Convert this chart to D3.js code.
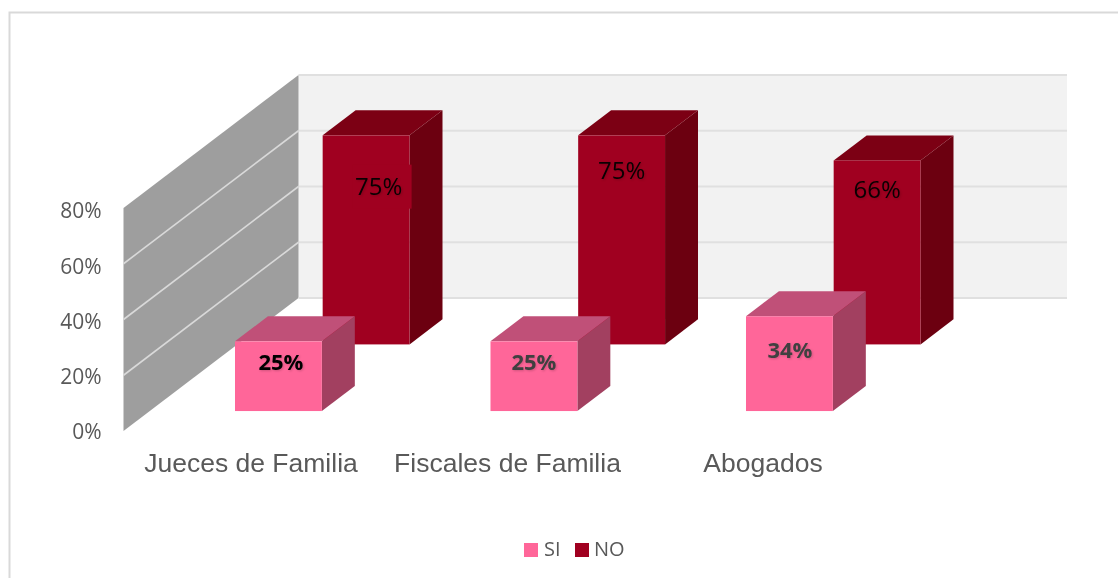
<!DOCTYPE html>
<html><head><meta charset="utf-8">
<script src="https://cdn.jsdelivr.net/npm/d3@7"></script>
<style>html,body{margin:0;padding:0;background:#fff}svg{display:block}
.soft{filter:blur(0.45px)}
.lbl{filter:blur(0.25px) drop-shadow(1px 1px 1px rgba(0,0,0,.18))}
.txt{filter:blur(0.25px)}</style>
</head><body><div id="c"></div>
<script>
const categories = ["Jueces de Familia", "Fiscales de Familia", "Abogados"];
const seriesNames = ["SI", "NO"];
const siValues = [25, 25, 34];
const noValues = [75, 75, 66];
const yTicks = [0, 20, 40, 60, 80];
const frontColor = {SI: "#FF6699", NO: "#A00020"};
const topColor = {SI: "#C05078", NO: "#7C0014"};
const sideColor = {SI: "#A24060", NO: "#6C0010"};
// label placement relative to the bar's front top, px (the source has hand-moved labels)
const labelOffset = {SI: [[2.5, 22], [0, 22], [0.5, 35]], NO: [[12.5, 52], [0, 36], [0, 30]]};
const labelColor = {SI: ["#000", "#404040", "#404040"], NO: ["#0a0002", "#0a0002", "#0a0002"]};

const W = 1118, H = 578;
const svg = d3.select("#c").append("svg").attr("width", W).attr("height", H);

const plot = {x0: 123.5, x1: 892, yBase: 431, depthX: 175, depthY: 133};
const y = d3.scaleLinear().domain([0, 80]).range([plot.yBase, plot.yBase - 223]);
const yLabel = d3.scaleLinear().domain([0, 80]).range([432, 211]);
const x = d3.scaleBand().domain(categories).range([plot.x0, plot.x0 + 766.5]).paddingInner(0.66).paddingOuter(0.33);
const depth = d3.scaleBand().domain(seriesNames).range([0, 1]).paddingInner(0.624).paddingOuter(0.31);
const px = (fx, d) => fx + d * plot.depthX;
const py = (fy, d) => fy - d * plot.depthY;
const poly = pts => pts.map(p => p.join(",")).join(" ");

// chart frame
svg.append("path").attr("d", `M9.5,${H} V12.5 H${W}`).attr("fill", "none").attr("stroke", "#D9D9D9").attr("stroke-width", 2);

const walls = svg.append("g").attr("class", "soft");
// back wall
const backX0 = px(plot.x0, 1), backX1 = 1067;
walls.append("rect").attr("x", backX0).attr("width", backX1 - backX0)
  .attr("y", py(y(80), 1)).attr("height", y(0) - y(80)).attr("fill", "#F2F2F2");
// side wall
walls.append("polygon").attr("fill", "#9E9E9E").attr("points", poly([
  [plot.x0, y(80)], [backX0, py(y(80), 1)], [backX0, py(y(0), 1)], [plot.x0, y(0)]]));
// grid
yTicks.forEach(t => {
  walls.append("line").attr("x1", backX0).attr("x2", backX1).attr("y1", py(y(t), 1)).attr("y2", py(y(t), 1))
    .attr("stroke", "#E0E0E0").attr("stroke-width", 2);
  if (t > 0 && t < 80) walls.append("line").attr("x1", plot.x0).attr("x2", backX0).attr("y1", y(t)).attr("y2", py(y(t), 1))
    .attr("stroke", "#D9D9D9").attr("stroke-width", 1.6);
});

// y axis labels
svg.append("g").attr("class", "txt").selectAll("text").data(yTicks).join("text")
  .attr("x", 101.5).attr("y", d => yLabel(d)).attr("dy", "0.35em").attr("text-anchor", "end")
  .attr("font-family", "'Open Sans','Noto Sans',sans-serif").attr("font-size", 21).attr("fill", "#595959")
  .text(d => d + "%");

// bars, back series first
const valuesOf = {SI: siValues, NO: noValues};
function drawBar(g, s, cat, v) {
  const d0 = depth(s), d1 = d0 + depth.bandwidth();
  const l = x(cat), r = l + x.bandwidth();
  const t = y(v), b = y(0);
  g.append("polygon").attr("fill", sideColor[s]).attr("points", poly([
    [px(r, d0), py(t, d0)], [px(r, d1), py(t, d1)], [px(r, d1), py(b, d1)], [px(r, d0), py(b, d0)]]));
  g.append("polygon").attr("fill", topColor[s]).attr("points", poly([
    [px(l, d0), py(t, d0)], [px(l, d1), py(t, d1)], [px(r, d1), py(t, d1)], [px(r, d0), py(t, d0)]]));
  g.append("rect").attr("x", px(l, d0)).attr("y", py(t, d0)).attr("width", x.bandwidth()).attr("height", b - t).attr("fill", frontColor[s]);
}
const bars = svg.append("g").attr("class", "soft").attr("transform", "translate(0,0.7)");
["NO", "SI"].forEach(s => categories.forEach((c, i) => drawBar(bars, s, c, valuesOf[s][i])));

// data labels
["NO", "SI"].forEach(s => categories.forEach((c, i) => {
  const d0 = depth(s), cx = px(x(c) + x.bandwidth() / 2, d0), top = py(y(valuesOf[s][i]), d0);
  const [ox, oy] = labelOffset[s][i];
  // first NO label carries a filled box that pokes just past the bar edge
  if (s === "NO" && i === 0) svg.append("rect").attr("class", "soft")
    .attr("x", cx + ox - 26).attr("y", top + oy - 22).attr("width", 59).attr("height", 44).attr("fill", frontColor.NO);
  svg.append("text").attr("class", "lbl").attr("x", cx + ox).attr("y", top + oy).attr("dy", "0.35em").attr("text-anchor", "middle")
    .attr("font-family", "'Open Sans','Noto Sans',sans-serif")
    .attr("font-size", s === "NO" ? 24 : 22).attr("font-weight", s === "SI" ? 700 : 400)
    .attr("fill", labelColor[s][i]).text(valuesOf[s][i] + "%");
}));

// category labels
const catX = [251, 507.5, 763];
svg.append("g").attr("class", "txt").selectAll("text").data(categories).join("text")
  .attr("x", (d, i) => catX[i]).attr("y", 463).attr("dy", "0.35em").attr("text-anchor", "middle")
  .attr("font-family", "'Liberation Sans',Arial,sans-serif").attr("font-size", 26.5).attr("fill", "#595959").text(d => d);

// legend
const legend = svg.append("g").attr("class", "txt");
[["SI", 524, 544], ["NO", 575, 594]].forEach(([s, bx, tx]) => {
  legend.append("rect").attr("x", bx).attr("y", 543).attr("width", 14).attr("height", 14).attr("fill", frontColor[s]);
  legend.append("text").attr("x", tx).attr("y", 549).attr("dy", "0.35em")
    .attr("font-family", "'Open Sans','Noto Sans',sans-serif").attr("font-size", 20).attr("fill", "#595959").text(s);
});
</script></body></html>
